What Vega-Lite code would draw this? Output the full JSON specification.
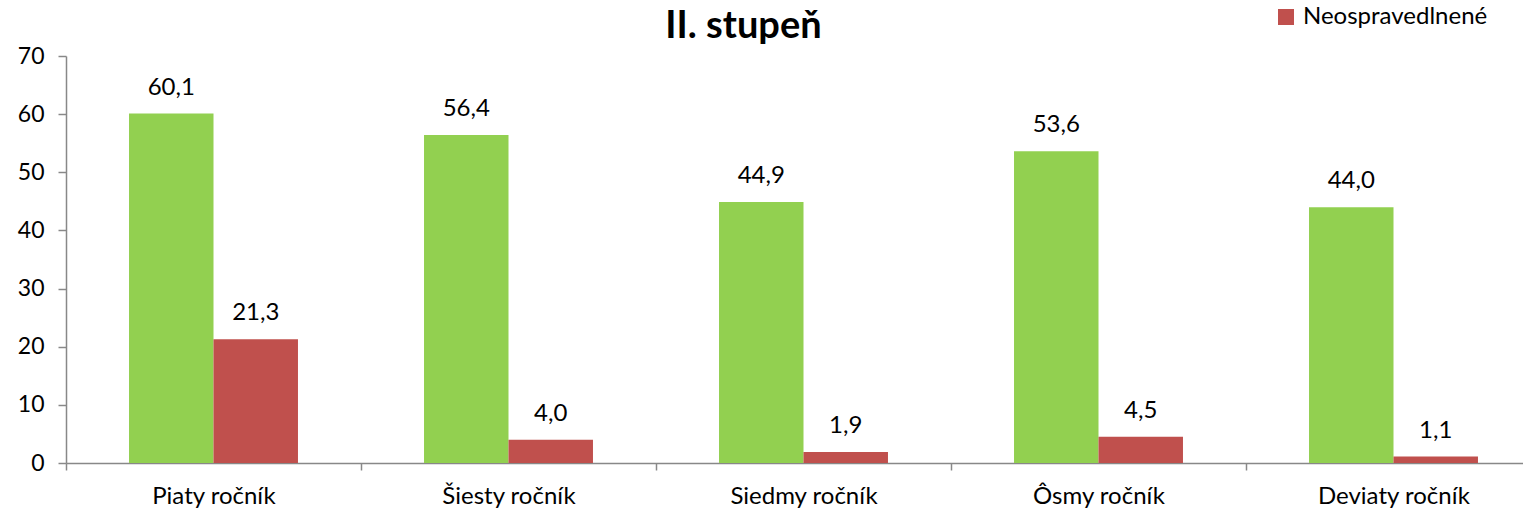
{
  "$schema": "https://vega.github.io/schema/vega-lite/v6.json",
  "width": 1475,
  "height": 407,
  "autosize": "none",
  "padding": {"left": 66, "top": 56, "right": 0, "bottom": 50},
  "config": {
    "view": {"stroke": null},
    "font": "Lato",
    "locale": {"number": {"decimal": ",", "thousands": " ", "grouping": [3], "currency": ["", " €"]}}
  },
  "title": {
    "text": "II. stupeň",
    "font": "Lato",
    "fontSize": 38,
    "fontWeight": "bold",
    "color": "#000000",
    "anchor": "middle",
    "frame": "group",
    "dx": -60,
    "offset": -41
  },
  "data": {
    "values": [
      {"rocnik": "Piaty ročník", "typ": "Ospravedlnené", "hodnota": 60.1},
      {"rocnik": "Piaty ročník", "typ": "Neospravedlnené", "hodnota": 21.3},
      {"rocnik": "Šiesty ročník", "typ": "Ospravedlnené", "hodnota": 56.4},
      {"rocnik": "Šiesty ročník", "typ": "Neospravedlnené", "hodnota": 4.0},
      {"rocnik": "Siedmy ročník", "typ": "Ospravedlnené", "hodnota": 44.9},
      {"rocnik": "Siedmy ročník", "typ": "Neospravedlnené", "hodnota": 1.9},
      {"rocnik": "Ôsmy ročník", "typ": "Ospravedlnené", "hodnota": 53.6},
      {"rocnik": "Ôsmy ročník", "typ": "Neospravedlnené", "hodnota": 4.5},
      {"rocnik": "Deviaty ročník", "typ": "Ospravedlnené", "hodnota": 44.0},
      {"rocnik": "Deviaty ročník", "typ": "Neospravedlnené", "hodnota": 1.1}
    ]
  },
  "encoding": {
    "x": {
      "field": "rocnik",
      "type": "nominal",
      "sort": null,
      "title": null,
      "scale": {"paddingInner": 0, "paddingOuter": 0},
      "axis": {
        "labelAngle": 0,
        "labelFontSize": 24,
        "labelColor": "#000000",
        "labelPadding": 14,
        "tickBand": "extent",
        "tickSize": 7,
        "tickColor": "#888888",
        "domainColor": "#888888",
        "domainWidth": 1.5,
        "tickWidth": 1.5
      }
    },
    "xOffset": {
      "field": "typ",
      "type": "nominal",
      "sort": ["Ospravedlnené", "Neospravedlnené"],
      "scale": {"paddingInner": 0, "paddingOuter": 0.746}
    },
    "y": {
      "field": "hodnota",
      "type": "quantitative",
      "title": null,
      "scale": {"domain": [0, 70], "nice": false},
      "axis": {
        "values": [0, 10, 20, 30, 40, 50, 60, 70],
        "grid": false,
        "labelFontSize": 23,
        "labelColor": "#000000",
        "labelPadding": 14,
        "tickSize": 8,
        "tickColor": "#888888",
        "domainColor": "#888888",
        "domainWidth": 1.5,
        "tickWidth": 1.5
      }
    }
  },
  "layer": [
    {
      "mark": {"type": "bar"},
      "encoding": {
        "color": {
          "field": "typ",
          "type": "nominal",
          "scale": {"domain": ["Ospravedlnené", "Neospravedlnené"], "range": ["#92D050", "#C0504D"]},
          "legend": {
            "values": ["Neospravedlnené"],
            "title": null,
            "orient": "none",
            "legendX": 1208,
            "legendY": -51,
            "symbolType": "square",
            "symbolSize": 256,
            "symbolStrokeWidth": 0,
            "labelFontSize": 24,
            "labelLimit": 400,
            "labelColor": "#000000",
            "labelFont": "Lato",
            "labelOffset": 5
          }
        }
      }
    },
    {
      "mark": {"type": "text", "baseline": "alphabetic", "dy": -19, "fontSize": 24, "color": "#000000"},
      "encoding": {
        "text": {"field": "hodnota", "type": "quantitative", "format": ".1f"}
      }
    }
  ]
}
